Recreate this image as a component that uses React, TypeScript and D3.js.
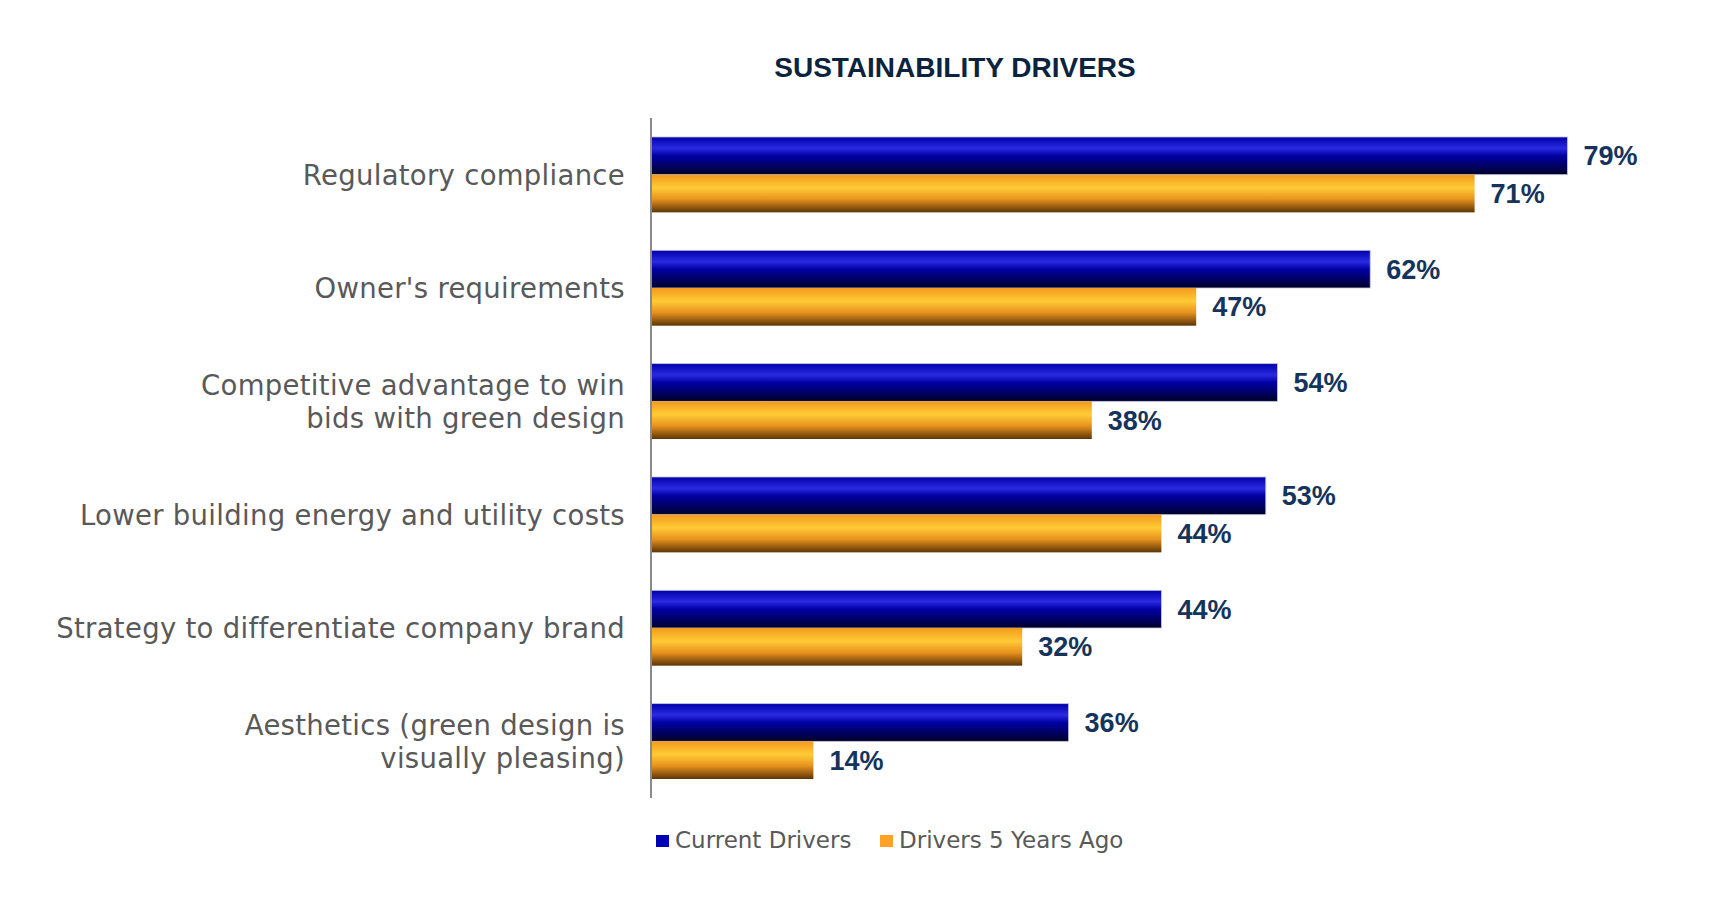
import { useEffect, useRef } from 'react'
import * as d3 from 'd3'

const categories = [
  'Regulatory compliance',
  "Owner's requirements",
  'Competitive advantage to win|bids with green design',
  'Lower building energy and utility costs',
  'Strategy to differentiate company brand',
  'Aesthetics (green design is|visually pleasing)',
]
const seriesNames = ['Current Drivers', 'Drivers 5 Years Ago']
const currentDrivers = [0.79, 0.62, 0.54, 0.53, 0.44, 0.36]
const driversFiveYearsAgo = [0.71, 0.47, 0.38, 0.44, 0.32, 0.14]

const WIDTH = 1718
const HEIGHT = 908

export default function App() {
  const svgRef = useRef<SVGSVGElement>(null)

  useEffect(() => {
    if (!svgRef.current) return
    const svg = d3.select(svgRef.current)
    svg.selectAll('*').remove()

    const axisX = 651
    const top = 118
    const bottom = 798

    const x = d3.scaleLinear().domain([0, 0.9]).range([axisX, axisX + 1044])
    const y = d3.scaleBand<string>()
      .domain(categories)
      .range([top, bottom])
      .paddingInner(0.335)
      .paddingOuter(0.1675)
    const ySub = d3.scaleBand<string>()
      .domain(seriesNames)
      .range([0, y.bandwidth()])

    const defs = svg.append('defs')
    const blue = defs.append('linearGradient')
      .attr('id', 'grad-blue')
      .attr('x1', '0%').attr('y1', '0%').attr('x2', '0%').attr('y2', '100%')
    ;[
      [0, '#0000a8'], [0.3, '#2a2ae2'], [0.5, '#0000a4'], [0.8, '#00005c'], [1, '#000026'],
    ].forEach(([o, c]) => blue.append('stop').attr('offset', o as number).attr('stop-color', c as string))

    const orange = defs.append('linearGradient')
      .attr('id', 'grad-orange')
      .attr('x1', '0%').attr('y1', '0%').attr('x2', '0%').attr('y2', '100%')
    ;[
      [0, '#f39a1e'], [0.35, '#ffcb35'], [0.65, '#e8921e'], [1, '#5c3506'],
    ].forEach(([o, c]) => orange.append('stop').attr('offset', o as number).attr('stop-color', c as string))

    // title
    svg.append('text')
      .attr('x', 955)
      .attr('y', 77)
      .attr('text-anchor', 'middle')
      .style('font-family', '"Liberation Sans", Arial, sans-serif')
      .style('font-weight', 'bold')
      .style('font-size', '28px')
      .style('fill', '#0c2340')
      .text('SUSTAINABILITY DRIVERS')

    const rows = categories.map((c, i) => ({
      cat: c,
      values: [currentDrivers[i], driversFiveYearsAgo[i]],
    }))

    const groups = svg.append('g')
      .selectAll('g')
      .data(rows)
      .join('g')
      .attr('transform', (d) => `translate(0, ${y(d.cat)})`)

    groups.selectAll('rect')
      .data((d) => d.values.map((v, j) => ({ v, s: seriesNames[j], j })))
      .join('rect')
      .attr('x', x(0))
      .attr('y', (d) => ySub(d.s)!)
      .attr('width', (d) => x(d.v) - x(0))
      .attr('height', ySub.bandwidth())
      .attr('fill', (d) => (d.j === 0 ? 'url(#grad-blue)' : 'url(#grad-orange)'))
      .attr('stroke', (d) => (d.j === 0 ? '#c4c4e4' : 'none'))
      .attr('stroke-width', 0.8)

    groups.selectAll('text.value')
      .data((d) => d.values.map((v, j) => ({ v, s: seriesNames[j] })))
      .join('text')
      .attr('class', 'value')
      .attr('x', (d) => x(d.v) + 16)
      .attr('y', (d) => ySub(d.s)! + ySub.bandwidth() / 2 + 9.5)
      .style('font-family', '"Liberation Sans", Arial, sans-serif')
      .style('font-weight', 'bold')
      .style('font-size', '27px')
      .style('fill', '#15335b')
      .text((d) => d3.format('.0%')(d.v))

    // category labels
    const labels = svg.append('g')
      .selectAll('text')
      .data(categories)
      .join('text')
      .attr('text-anchor', 'end')
      .style('font-family', '"DejaVu Sans", Verdana, sans-serif')
      .style('font-size', '27.5px')
      .style('letter-spacing', '0.3px')
      .style('fill', '#595959')
    labels.each(function (d) {
      const lines = d.split('|')
      const cy = y(d)! + y.bandwidth() / 2
      const lh = 32.5
      lines.forEach((ln, k) => {
        d3.select(this).append('tspan')
          .attr('x', 625)
          .attr('y', cy + 10 + (k - (lines.length - 1) / 2) * lh)
          .text(ln)
      })
    })

    // axis line
    svg.append('line')
      .attr('x1', axisX).attr('x2', axisX)
      .attr('y1', top).attr('y2', bottom)
      .attr('stroke', '#8a8a8a')
      .attr('stroke-width', 2)

    // legend
    const legendColors = ['#0000b4', '#ffa225']
    const legendX = [656, 880]
    const legend = svg.append('g')
      .selectAll('g')
      .data(seriesNames)
      .join('g')
      .attr('transform', (_d, i) => `translate(${legendX[i]}, 835)`)
    legend.append('rect')
      .attr('width', 13)
      .attr('height', 12)
      .attr('fill', (_d, i) => legendColors[i])
    legend.append('text')
      .attr('x', 19)
      .attr('y', 13)
      .style('font-family', '"DejaVu Sans", Verdana, sans-serif')
      .style('font-size', '23px')
      .style('fill', '#595959')
      .text((d) => d)
  }, [])

  return (
    <svg
      ref={svgRef}
      width={WIDTH}
      height={HEIGHT}
      style={{ position: 'absolute', left: 0, top: 0, display: 'block', background: '#fff' }}
    />
  )
}
